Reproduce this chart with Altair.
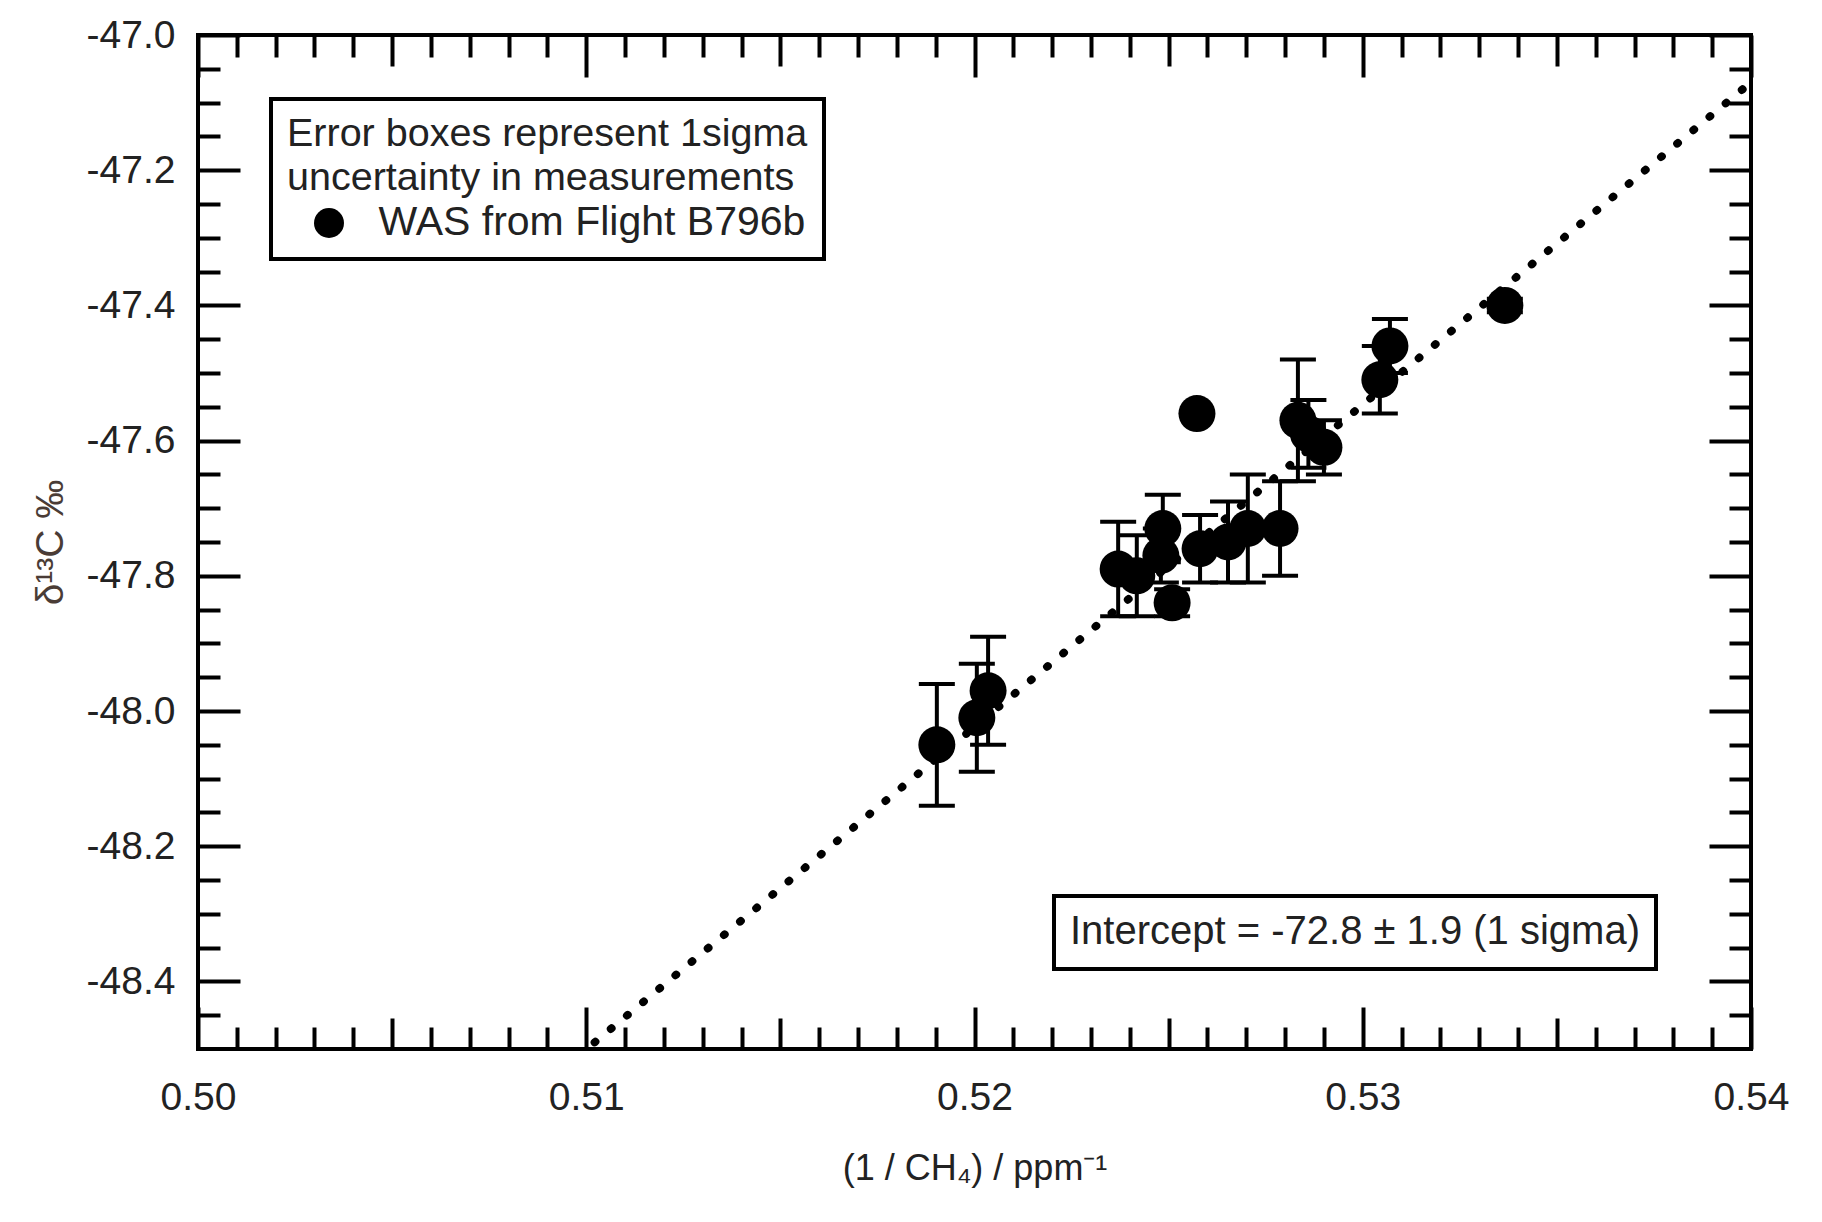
import altair as alt
import pandas as pd

FONT = "Liberation Sans"
TXT = "#222222"

# ---- data ----
x_vals = [0.51903, 0.52006, 0.52035, 0.52370, 0.52418, 0.52480, 0.52485, 0.52509,
          0.52573, 0.52581, 0.52653, 0.52704, 0.52787, 0.52833, 0.52860, 0.52900,
          0.53044, 0.53070, 0.53366]
y_vals = [-48.05, -48.01, -47.97, -47.79, -47.80, -47.77, -47.73, -47.84,
          -47.56, -47.76, -47.75, -47.73, -47.73, -47.57, -47.59, -47.61,
          -47.51, -47.46, -47.40]
y_err = [0.09, 0.08, 0.08, 0.07, 0.06, 0.04, 0.05, 0.02,
         0.00, 0.05, 0.06, 0.08, 0.07, 0.09, 0.05, 0.04,
         0.05, 0.04, 0.01]
series_name = "WAS from Flight B796b"

fit_x = [0.5098, 0.54]
fit_y = [-48.51, -47.07]
fit_label = "Intercept = -72.8 \u00b1 1.9 (1 sigma)"

legend_title = ["Error boxes represent 1sigma", "uncertainty in measurements"]

x_major = [0.50, 0.51, 0.52, 0.53, 0.54]
x_mid = [0.505, 0.515, 0.525, 0.535]
x_minor = [round(0.50 + i * 0.001, 3) for i in range(1, 40) if i % 5 != 0]
y_major = [-47.0, -47.2, -47.4, -47.6, -47.8, -48.0, -48.2, -48.4]
y_minor = [round(-47.0 - i * 0.05, 2) for i in range(1, 30) if i % 4 != 0]

x_title = "(1 / CH\u2084) / ppm\u207b\u00b9"
y_title = "\u03b4\u00b9\u00b3C \u2030"

df = pd.DataFrame({
    "x": x_vals,
    "y": y_vals,
    "lo": [y - e for y, e in zip(y_vals, y_err)],
    "hi": [y + e for y, e in zip(y_vals, y_err)],
    "series": [series_name] * len(x_vals),
})
fit_df = pd.DataFrame({"fx": fit_x, "fy": fit_y, "label": [fit_label] * len(fit_x)})

xscale = alt.Scale(domain=[0.50, 0.54], nice=False, zero=False)
yscale = alt.Scale(domain=[-48.5, -47.0], nice=False, zero=False)


def make_axis(orient, values, size, labels=False, title=None, fmt=None):
    kw = dict(orient=orient, values=values, tickSize=size, offset=-size,
              domain=False, grid=False, ticks=True, tickColor="black",
              tickWidth=4, labels=labels)
    if labels:
        kw.update(format=fmt, labelFontSize=39, labelFont=FONT, labelColor=TXT,
                  labelFlush=False, labelOverlap=False,
                  labelExpr="replace(datum.label, '\u2212', '-')")
        if orient in ("bottom", "top"):
            kw.update(labelPadding=29)
        else:
            kw.update(labelPadding=23)
    if title is not None:
        kw.update(title=title, titleFont=FONT, titleFontWeight="normal")
        if orient == "bottom":
            kw.update(titleFontSize=36, titleColor=TXT, titlePadding=34)
        else:
            kw.update(titleFontSize=39, titleColor="#4a3c36", titlePadding=24,
                      titleBaseline="alphabetic")
    else:
        kw.update(title=None)
    return alt.Axis(**kw)


ax_b_major = make_axis("bottom", x_major, 42, labels=True, title=x_title, fmt=".2f")
ax_b_mid = make_axis("bottom", x_mid, 31)
ax_b_minor = make_axis("bottom", x_minor, 22)
ax_t_major = make_axis("top", x_major, 42)
ax_t_mid = make_axis("top", x_mid, 31)
ax_t_minor = make_axis("top", x_minor, 22)
ax_l_major = make_axis("left", y_major, 42, labels=True, title=y_title, fmt=".1f")
ax_l_minor = make_axis("left", y_minor, 22)
ax_r_major = make_axis("right", y_major, 42)
ax_r_minor = make_axis("right", y_minor, 22)

# intercept box: legend whose title carries the text, entries hidden
fit_legend = alt.Legend(
    title=fit_label, orient="none", legendX=856, legendY=861, padding=16,
    strokeColor="black", fillColor="white",
    titleFontSize=40, titleFont=FONT, titleFontWeight="normal", titleColor=TXT,
    titlePadding=0, titleLimit=1000, titleAnchor="start", titleAlign="left",
    labelExpr="''", labelFontSize=1, labelOffset=0,
    symbolType="circle", symbolOpacity=0, symbolSize=1, symbolStrokeWidth=0,
    symbolOffset=0,
)
pt_legend = alt.Legend(
    title=legend_title, orient="none", legendX=73, legendY=64, padding=16,
    strokeColor="black", fillColor="white",
    titleFontSize=39.5, titleFont=FONT, titleFontWeight="normal", titleColor=TXT,
    titleLineHeight=44, titlePadding=4, titleLimit=1000, titleAnchor="start",
    titleAlign="left",
    labelFontSize=41, labelFont=FONT, labelColor=TXT, labelLimit=1000,
    symbolSize=900, symbolType="circle", symbolFillColor="black",
    symbolStrokeColor="black", symbolOffset=21.5, labelOffset=29,
)

fit_line = alt.Chart(fit_df).mark_line(
    strokeWidth=8, strokeDash=[1, 20], strokeCap="round", clip=True
).encode(
    x=alt.X("fx:Q", scale=xscale, axis=ax_b_major),
    y=alt.Y("fy:Q", scale=yscale, axis=ax_l_major),
    color=alt.Color("label:N", scale=alt.Scale(range=["black"]), legend=fit_legend),
)

base = alt.Chart(df)
rule_lo = base.mark_rule(strokeWidth=4, color="black").encode(
    x=alt.X("x:Q", scale=xscale, axis=ax_b_mid),
    y=alt.Y("y:Q", scale=yscale, axis=ax_l_minor),
    y2="lo:Q",
)
rule_hi = base.mark_rule(strokeWidth=4, color="black").encode(
    x=alt.X("x:Q", scale=xscale, axis=ax_b_minor),
    y=alt.Y("y:Q", scale=yscale, axis=ax_r_major),
    y2="hi:Q",
)
cap_lo = base.mark_tick(orient="horizontal", size=36, thickness=4, color="black", opacity=1).encode(
    x=alt.X("x:Q", scale=xscale, axis=ax_t_major),
    y=alt.Y("lo:Q", scale=yscale, axis=ax_r_minor),
)
cap_hi = base.mark_tick(orient="horizontal", size=36, thickness=4, color="black", opacity=1).encode(
    x=alt.X("x:Q", scale=xscale, axis=ax_t_mid),
    y=alt.Y("hi:Q", scale=yscale, axis=None),
)
points = base.mark_point(filled=True, size=1369, color="black", opacity=1).encode(
    x=alt.X("x:Q", scale=xscale, axis=ax_t_minor),
    y=alt.Y("y:Q", scale=yscale, axis=None),
    shape=alt.Shape("series:N", scale=alt.Scale(range=["circle"]), legend=pt_legend),
)

chart = alt.layer(
    fit_line, rule_lo, rule_hi, cap_lo, cap_hi, points
).resolve_axis(
    x="independent", y="independent"
).properties(
    width=1553, height=1014,
    autosize=alt.AutoSizeParams(type="none"),
    padding={"left": 190, "top": 27, "right": 60, "bottom": 165},
    background="white",
).configure_view(
    stroke="black", strokeWidth=4
).configure_legend(
    strokeWidth=4
)

chart.save("out.html", embed_options={"renderer": "svg", "actions": False})
